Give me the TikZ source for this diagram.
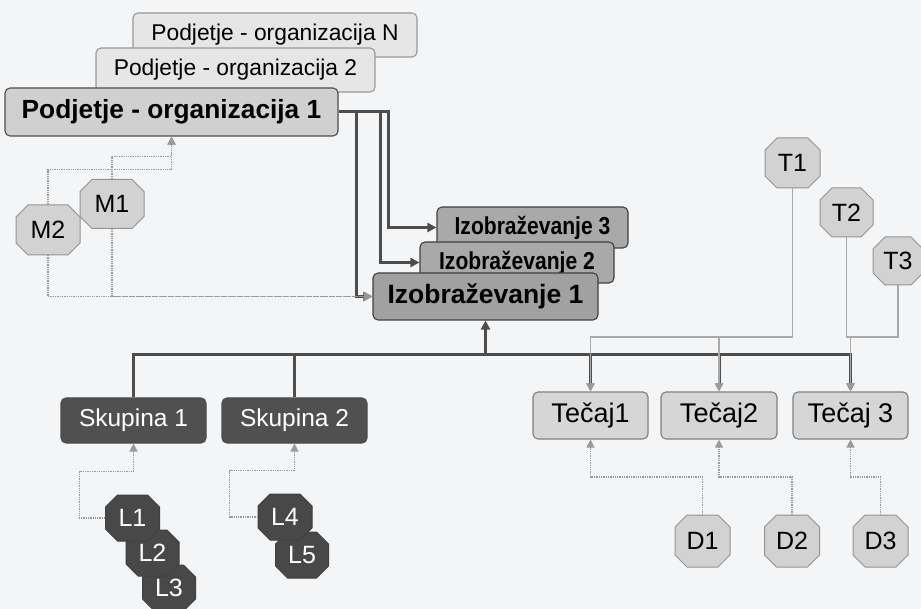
\documentclass[tikz,border=0pt]{standalone}
\usepackage{fontspec}
\setmainfont{Liberation Sans}
\newfontfamily\izofont{Liberation Sans}[FakeStretch=0.86]
\usetikzlibrary{arrows.meta,calc}
\definecolor{bgc}{HTML}{F4F5F7}
\definecolor{pone}{HTML}{D0D0D0}
\definecolor{ptwo}{HTML}{E6E6E6}
\definecolor{izo}{HTML}{A9A9A9}
\definecolor{sku}{HTML}{505050}
\definecolor{tec}{HTML}{D6D6D6}
\definecolor{octl}{HTML}{D2D2D2}
\definecolor{octd}{HTML}{484848}
\definecolor{thickc}{HTML}{4D4D4D}
\definecolor{dotcol}{HTML}{9A9A9A}
\newcommand\octnode[9]{%
  \draw[#8] ({#2-#4+#6},{#3-#5}) -- ({#2+#4-#6},{#3-#5}) -- ({#2+#4},{#3-#5+#6}) -- ({#2+#4},{#3+#5-#6}) -- ({#2+#4-#6},{#3+#5}) -- ({#2-#4+#6},{#3+#5}) -- ({#2-#4},{#3+#5-#6}) -- ({#2-#4},{#3-#5+#6}) -- cycle;
  \node[minimum width={2*#4}, minimum height={2*#5}, inner sep=0pt, #7] (#1) at (#2,#3) {#9};
}
\tikzset{
  box/.style={rounded corners=5pt, inner sep=0pt, line width=1.1pt},
  pbig/.style={box, fill=pone, draw=thickc, font=\fontsize{26.3}{29}\selectfont\bfseries},
  psmall/.style={box, fill=ptwo, draw=gray!80, font=\fontsize{22.8}{26}\selectfont},
  izsmall/.style={box, fill=izo, draw=black!75, font=\izofont\fontsize{24.5}{27}\selectfont\bfseries},
  izbig/.style={box, fill=izo!95!black, draw=black!75, font=\fontsize{26.5}{29}\selectfont\bfseries},
  skbox/.style={box, fill=sku, draw=black!70, text=white, font=\fontsize{24.5}{27}\selectfont},
  tcbox/.style={box, fill=tec, draw=gray, font=\fontsize{27}{30}\selectfont},
  octlight/.style={fill=octl, draw=gray!85, line width=1pt},
  octdark/.style={fill=octd, draw=black!75, line width=1pt},
  otext/.style={font=\fontsize{25}{28}\selectfont},
  otextd/.style={font=\fontsize{25}{28}\selectfont, text=white},
  thickline/.style={draw=thickc, line width=3pt},
  thickarrow/.style={thickline, -{Triangle[length=9pt,width=9pt]}},
  thickgray/.style={thickline, -{Triangle[length=8pt,width=8pt,color=dotcol]}},
  dotline/.style={draw=dotcol, line width=1.3pt, densely dotted},
  dotarrow/.style={dotline, -{Triangle[length=8pt,width=8pt,color=dotcol]}},
  thinarrow/.style={draw=dotcol!85, line width=1.1pt, -{Triangle[length=8pt,width=8pt,color=dotcol]}},
}
\begin{document}
\begin{tikzpicture}[x=1pt,y=-1pt]
\useasboundingbox (0,0) rectangle (921,609);
\fill[bgc] (0,0) rectangle (921,609);

% top boxes
\node[psmall, minimum width=284pt, minimum height=44pt] (PN) at (275,35) {Podjetje - organizacija N};
\node[psmall, minimum width=279pt, minimum height=44pt] (P2) at (235.5,70) {Podjetje - organizacija 2};
\node[pbig, minimum width=333pt, minimum height=48pt] (P1) at (171.5,112) {Podjetje - organizacija 1};

% Izobrazevanje
\node[izsmall, minimum width=191pt, minimum height=41pt] (I3) at (532.5,227.5) {Izobraževanje 3};
\node[izsmall, minimum width=194pt, minimum height=41pt] (I2) at (517,262.5) {Izobraževanje 2};
\node[izbig, minimum width=225pt, minimum height=47pt] (I1) at (485.5,296.5) {Izobraževanje 1};

% Skupina and Tecaj
\node[skbox, minimum width=145pt, minimum height=45pt] (S1) at (133.5,420.5) {Skupina 1};
\node[skbox, minimum width=145pt, minimum height=45pt] (S2) at (294.5,420.5) {Skupina 2};
\node[tcbox, minimum width=115pt, minimum height=47pt] (C1) at (590.5,415.5) {Tečaj1};
\node[tcbox, minimum width=116pt, minimum height=47pt] (C2) at (719,415.5) {Tečaj2};
\node[tcbox, minimum width=115pt, minimum height=47pt] (C3) at (850.5,415.5) {Tečaj 3};

% octagons
\octnode{M1}{112}{204}{32}{24.5}{12}{otext}{octlight}{M1}
\octnode{M2}{48}{230}{32}{25}{12}{otext}{octlight}{M2}
\octnode{T1}{792.5}{163}{27.5}{25}{12}{otext}{octlight}{T1}
\octnode{T2}{846.5}{212.5}{26.5}{24.5}{12}{otext}{octlight}{T2}
\octnode{T3}{898}{261}{25}{24}{12}{otext}{octlight}{T3}
\octnode{D1}{702.5}{541}{27.5}{26}{12}{otext}{octlight}{D1}
\octnode{D2}{792}{541}{27.5}{26}{12}{otext}{octlight}{D2}
\octnode{D3}{880.5}{541}{27.5}{26}{12}{otext}{octlight}{D3}
\octnode{L3}{169}{588}{26.5}{23}{12}{otextd}{octdark}{L3}
\octnode{L2}{152.5}{553}{26.5}{23}{12}{otextd}{octdark}{L2}
\octnode{L1}{132.5}{518}{27}{23}{12}{otextd}{octdark}{L1}
\octnode{L5}{302}{555}{26.5}{23}{12}{otextd}{octdark}{L5}
\octnode{L4}{285}{517}{27}{23}{12}{otextd}{octdark}{L4}

% thick connectors from Podjetje 1
\draw[thickline] (P1.east) -- ++(50,0);
\draw[thickarrow] (P1.east) -- ++(18,0) |- (I1.west);
\draw[thickarrow] (P1.east) -- ++(42,0) |- (I2.west);
\draw[thickarrow] (P1.east) -- ++(50,0) |- (I3.west);

% bus
\coordinate (bus) at (0,355);
\draw[thickline] (S1.north) -- (S1.north |- bus) -- (C3.north |- bus) -- ($(C3.north)+(0,-10)$);
\draw[thickline] (S2.north) -- (S2.north |- bus);
\draw[thickarrow] (I1.south |- bus) -- (I1.south);
\draw[thickgray] (C1.north |- bus) -- (C1.north);
\draw[thickgray] (C2.north |- bus) -- (C2.north);
\draw[thickgray] (C3.north |- bus) -- (C3.north);

% dotted connectors M
\draw[dotarrow] (M1.north) -- ++(0,-23) -| (P1.south);
\draw[dotarrow] (M2.north) -- ++(0,-35) -| (P1.south);
\draw[dotarrow] (M1.south) |- (I1.west);
\draw[dotarrow] (M2.south) |- (I1.west);

% dotted connectors L
\draw[dotarrow] (L1.west) -- ++(-26,0) |- ($(S1.south)+(0,28)$) -- (S1.south);
\draw[dotarrow] (L4.west) -- ++(-28,0) |- ($(S2.south)+(0,27)$) -- (S2.south);

% connectors T
\coordinate (tl) at (0,337);
\draw[thinarrow] (T1.south) |- (C1.north |- tl) -- (C1.north);
\draw[thinarrow] (T1.south) |- (C2.north |- tl) -- (C2.north);
\draw[thinarrow] (T2.south) |- (C3.north |- tl) -- (C3.north);
\draw[thinarrow] (T3.south) |- (C3.north |- tl) -- (C3.north);

% dotted connectors D
\coordinate (dl) at (0,477);
\draw[dotarrow] (D1.north) |- (C1.south |- dl) -- (C1.south);
\draw[dotarrow] (D2.north) |- (C2.south |- dl) -- (C2.south);
\draw[dotarrow] (D3.north) |- (C3.south |- dl) -- (C3.south);
\end{tikzpicture}
\end{document}
